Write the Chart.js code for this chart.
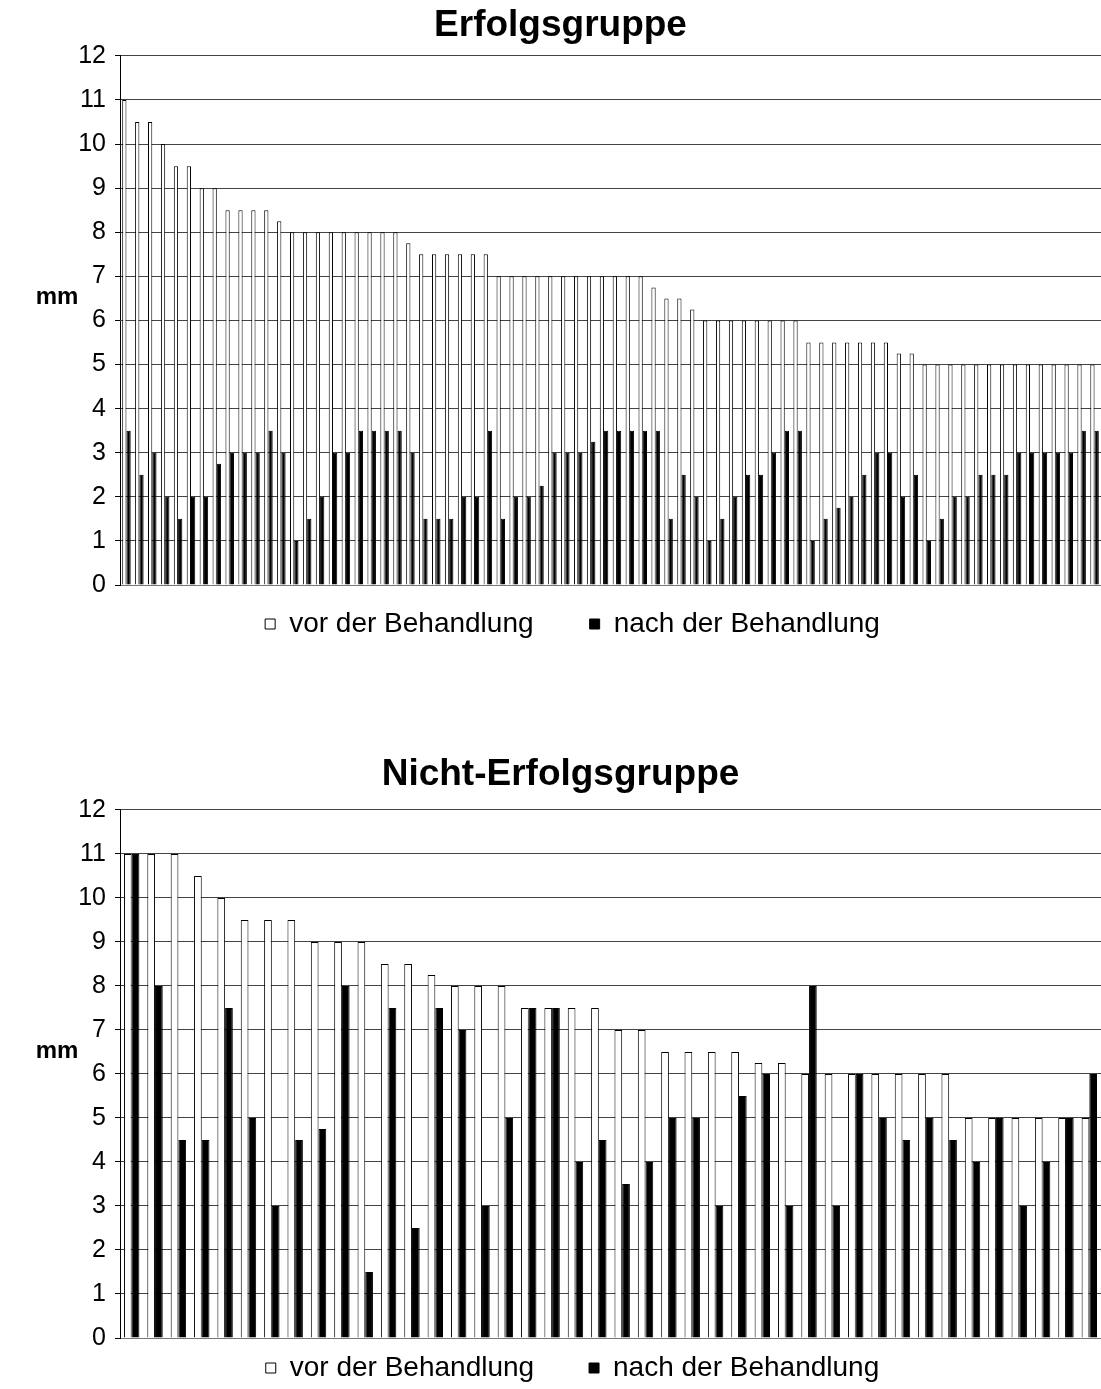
<!DOCTYPE html>
<html>
<head>
<meta charset="utf-8">
<script src="https://cdn.jsdelivr.net/npm/chart.js@4.4.1/dist/chart.umd.min.js"></script>
<style>
  html, body { margin: 0; padding: 0; background: #fff; overflow: hidden; }
  canvas { position: absolute; left: 0; }
  #topChart { top: 0; }
  #bottomChart { top: 750px; }
</style>
</head>
<body>
<canvas id="topChart" width="1101" height="648"></canvas>
<canvas id="bottomChart" width="1101" height="642"></canvas>
<script>
// Erfolgsgruppe
const topVor = [11, 10.5, 10.5, 10, 9.5, 9.5, 9, 9, 8.5, 8.5, 8.5, 8.5, 8.25,
  8, 8, 8, 8, 8, 8, 8, 8, 8, 7.75, 7.5, 7.5, 7.5, 7.5, 7.5, 7.5,
  7, 7, 7, 7, 7, 7, 7, 7, 7, 7, 7, 7, 6.75, 6.5, 6.5, 6.25,
  6, 6, 6, 6, 6, 6, 6, 6, 5.5, 5.5, 5.5, 5.5, 5.5, 5.5, 5.5, 5.25, 5.25,
  5, 5, 5, 5, 5, 5, 5, 5, 5, 5, 5, 5, 5, 5];
const topNach = [3.5, 2.5, 3, 2, 1.5, 2, 2, 2.75, 3, 3, 3, 3.5, 3,
  1, 1.5, 2, 3, 3, 3.5, 3.5, 3.5, 3.5, 3, 1.5, 1.5, 1.5, 2, 2, 3.5,
  1.5, 2, 2, 2.25, 3, 3, 3, 3.25, 3.5, 3.5, 3.5, 3.5, 3.5, 1.5, 2.5, 2,
  1, 1.5, 2, 2.5, 2.5, 3, 3.5, 3.5, 1, 1.5, 1.75, 2, 2.5, 3, 3, 2, 2.5,
  1, 1.5, 2, 2, 2.5, 2.5, 2.5, 3, 3, 3, 3, 3, 3.5, 3.5];

// Nicht-Erfolgsgruppe
const bottomVor = [11, 11, 11, 10.5, 10, 9.5, 9.5, 9.5, 9, 9, 9, 8.5, 8.5, 8.25,
  8, 8, 8, 7.5, 7.5, 7.5, 7.5, 7, 7, 6.5, 6.5, 6.5, 6.5, 6.25, 6.25,
  6, 6, 6, 6, 6, 6, 6, 5, 5, 5, 5, 5, 5];
const bottomNach = [11, 8, 4.5, 4.5, 7.5, 5, 3, 4.5, 4.75, 8, 1.5, 7.5, 2.5, 7.5,
  7, 3, 5, 7.5, 7.5, 4, 4.5, 3.5, 4, 5, 5, 3, 5.5, 6, 3,
  8, 3, 6, 5, 4.5, 5, 4.5, 4, 5, 3, 4, 5, 6];

const seriesNames = ['vor der Behandlung', 'nach der Behandlung'];
const yMin = 0, yMax = 12, yStep = 1;

const FONT = '"Liberation Sans", Arial, sans-serif';

const extras = {
  id: 'extras',
  afterLayout(chart, args, opts) {
    const t = chart.titleBlock, l = chart.legend;
    if (t) { t.left += opts.titleShift; t.right += opts.titleShift; }
    if (l) { l.left += opts.legendShift; l.right += opts.legendShift; }
  },
  afterDraw(chart, args, opts) {
    const ctx = chart.ctx, a = chart.chartArea;
    ctx.save();
    ctx.font = 'bold 24px ' + FONT;
    ctx.fillStyle = '#000';
    ctx.textAlign = 'center';
    ctx.textBaseline = 'middle';
    ctx.fillText('mm', 57, (a.top + a.bottom) / 2 - 23);
    ctx.restore();
  }
};

function makeChart(id, title, vor, nach, titlePad, legendPad, gapSpaces) {
  return new Chart(document.getElementById(id), {
    type: 'bar',
    data: {
      labels: vor.map((_, i) => String(i + 1)),
      datasets: [
        {
          label: seriesNames[0] + ' '.repeat(gapSpaces),
          data: vor,
          backgroundColor: '#fff',
          borderColor: '#000',
          borderWidth: 1
        },
        {
          label: seriesNames[1],
          data: nach,
          backgroundColor: '#000',
          borderColor: '#000',
          borderWidth: 1
        }
      ]
    },
    options: {
      responsive: false,
      animation: false,
      layout: { padding: 0 },
      datasets: { bar: { categoryPercentage: 0.66, barPercentage: 1 } },
      scales: {
        x: {
          grid: { display: false, drawTicks: false },
          ticks: { display: false },
          border: { display: true, color: '#777', width: 1 }
        },
        y: {
          min: yMin,
          max: yMax,
          afterFit(scale) { scale.width = 120; },
          ticks: { stepSize: yStep, color: '#000', padding: 9, font: { family: FONT, size: 25 } },
          grid: { color: '#444', lineWidth: 1, tickLength: 5, tickColor: '#000' },
          border: { color: '#000', width: 1 }
        }
      },
      plugins: {
        tooltip: { enabled: false },
        title: {
          display: true,
          text: title,
          color: '#000',
          font: { family: FONT, size: 37, weight: 'bold' },
          padding: titlePad
        },
        legend: {
          position: 'bottom',
          labels: {
            color: '#000',
            font: { family: FONT, size: 28 },
            boxWidth: 10,
            boxHeight: 10,
            padding: legendPad
          }
        },
        extras: { titleShift: 10, legendShift: 22 }
      }
    },
    plugins: [extras]
  });
}

makeChart('topChart', 'Erfolgsgruppe', topVor, topNach, { top: 4, bottom: 7.5 }, 25, 4);
makeChart('bottomChart', 'Nicht-Erfolgsgruppe', bottomVor, bottomNach, { top: 3, bottom: 12.5 }, 16, 5);
</script>
</body>
</html>
